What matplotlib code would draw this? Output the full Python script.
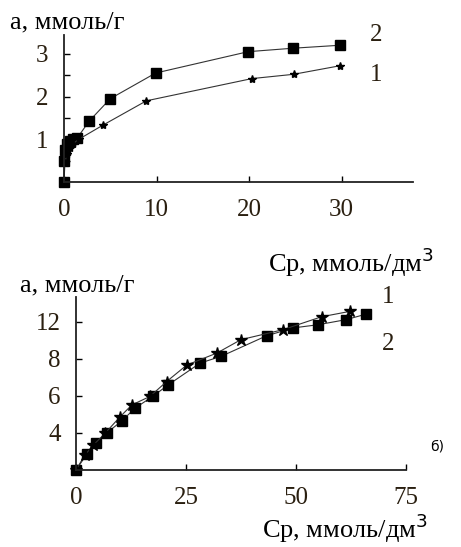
import matplotlib.pyplot as plt

# верхний график: изотермы, а (ммоль/г) от Ср (ммоль/дм3)
x1_top = [0, 0.1, 0.3, 0.6, 1.0, 1.6, 4.2, 8.9, 20.3, 24.8, 29.8]
y1_top = [0, 0.45, 0.65, 0.8, 0.9, 1.0, 1.33, 1.9, 2.42, 2.52, 2.72]
x2_top = [0, 0.05, 0.1, 0.3, 0.6, 1.0, 1.4, 2.7, 5.0, 9.9, 19.9, 24.7, 29.8]
y2_top = [0, 0.5, 0.75, 0.9, 0.97, 1.0, 1.02, 1.42, 1.95, 2.55, 3.05, 3.13, 3.2]
top_xticks = [0, 10, 20, 30]
top_yticks = [0.5, 1, 1.5, 2, 2.5, 3]
top_ylabels = ["", "1", "", "2", "", "3"]

# нижний график (б)
x1_bot = [0, 2.0, 3.9, 6.6, 10, 12.7, 16.8, 20.6, 25.2, 32, 37.5, 47, 55.8, 62.3]
y1_bot = [0, 1.2, 2.0, 2.97, 4.3, 5.27, 5.95, 7.16, 8.5, 9.46, 10.55, 11.35, 12.4, 12.84]
x2_bot = [0, 2.5, 4.5, 7.0, 10.5, 13.4, 17.6, 21.0, 28.2, 33, 43.3, 49.4, 55.1, 61.4, 65.8]
y2_bot = [0, 1.3, 2.2, 3.0, 4.0, 5.0, 6.0, 6.9, 8.65, 9.2, 10.86, 11.5, 11.76, 12.17, 12.6]
bot_xticks = [0, 25, 50, 75]
bot_yticks = [3, 6, 9, 12]
bot_ylabels = ["4", "6", "8", "12"]

plt.rcParams['font.family'] = ['Liberation Serif', 'DejaVu Serif']
lc = "#333333"
tc = "#2a1f10"

fig = plt.figure(figsize=(4.61, 5.47), dpi=100)


def style(ax):
    for s in ["top", "right"]:
        ax.spines[s].set_visible(False)
    for s in ["left", "bottom"]:
        ax.spines[s].set_linewidth(1.3)
        ax.spines[s].set_color("#222222")
    ax.tick_params(direction="in", length=4, width=1, labelsize=18,
                   labelcolor=tc)
    ax.tick_params(axis="x", pad=12)
    ax.tick_params(axis="y", pad=11)


# --- верхний
ax1 = fig.add_axes([64/461, 1-182/547, 349/461, 147/547])
style(ax1)
ax1.plot(x2_top, y2_top, color=lc, lw=0.8, marker="s", ms=7, mfc="black", mec="black", clip_on=False)
ax1.plot(x1_top, y1_top, color=lc, lw=0.8, marker="*", ms=6, mfc="black", mec="black", clip_on=False)
ax1.set_xlim(0, 37.7)
ax1.set_ylim(0, 3.44)
ax1.set_xticks(top_xticks)
ax1.set_yticks(top_yticks, top_ylabels)
ax1.text(33.0, 3.45, "2", fontsize=18, color=tc, va="center")
ax1.text(33.0, 2.5, "1", fontsize=18, color=tc, va="center")
fig.text(10/461, 1-22/547, "а, ммоль/г", fontsize=19, va="center")
fig.text(268/461, 1-262/547, "Ср, ммоль/дм$^3$", fontsize=19, va="center")

# --- нижний
ax2 = fig.add_axes([76/461, 1-470/547, 330/461, 173/547])
style(ax2)
ax2.plot(x2_bot, y2_bot, color=lc, lw=0.8, marker="s", ms=7, mfc="black", mec="black", clip_on=False)
ax2.plot(x1_bot, y1_bot, color=lc, lw=0.8, marker="*", ms=9, mfc="black", mec="black", clip_on=False)
ax2.set_xlim(0, 75)
ax2.set_ylim(0, 14.0)
ax2.set_xticks(bot_xticks)
ax2.set_yticks(bot_yticks, bot_ylabels)
ax2.text(69.5, 14.0, "1", fontsize=18, color=tc, va="center")
ax2.text(69.5, 10.2, "2", fontsize=18, color=tc, va="center")
ax2.text(80.5, 1.9, "б)", fontsize=10, va="center", family=["DejaVu Sans"])
fig.text(20/461, 1-285/547, "а, ммоль/г", fontsize=19, va="center")
fig.text(262/461, 1-528/547, "Ср, ммоль/дм$^3$", fontsize=19, va="center")

plt.savefig("out.png", dpi=100)
